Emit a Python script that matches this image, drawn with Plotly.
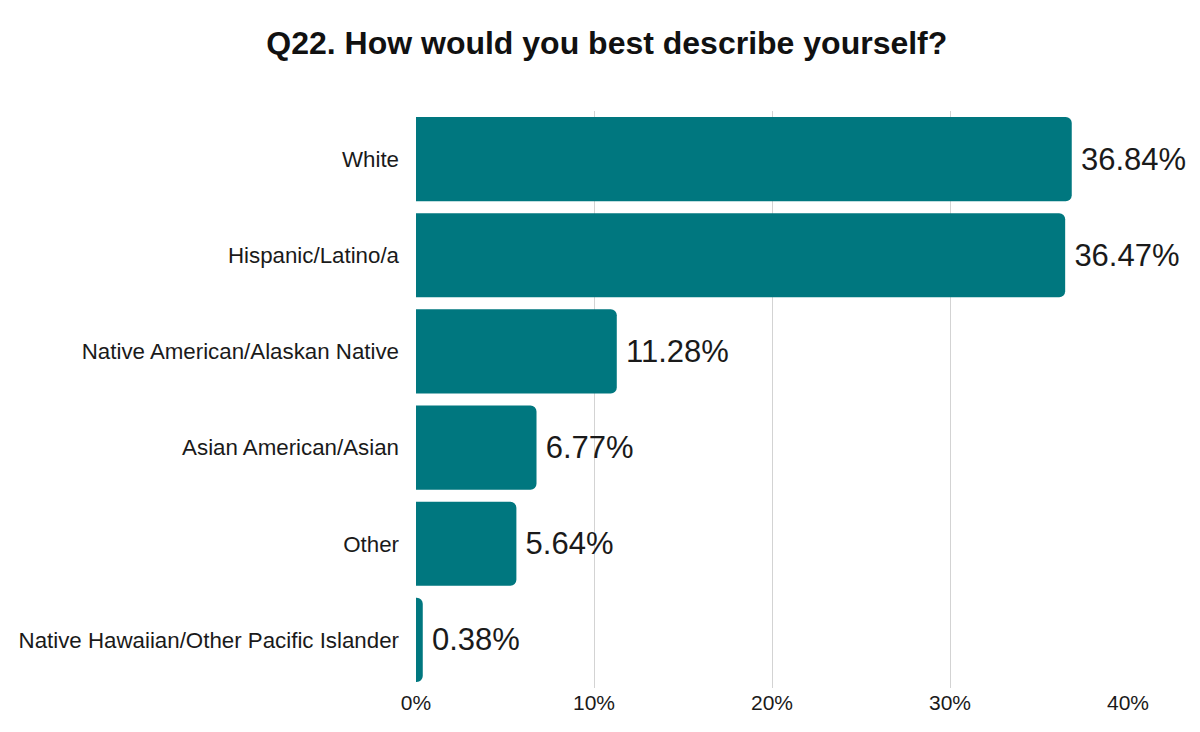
import plotly.graph_objects as go

# --- Survey data (percent of respondents) ---
categories = [
    "White",
    "Hispanic/Latino/a",
    "Native American/Alaskan Native",
    "Asian American/Asian",
    "Other",
    "Native Hawaiian/Other Pacific Islander",
]
percents = [36.84, 36.47, 11.28, 6.77, 5.64, 0.38]
tick_vals = [0, 10, 20, 30, 40]
tick_text = ["0%", "10%", "20%", "30%", "40%"]

# --- Horizontal bar chart ---
fig = go.Figure()
fig.add_trace(go.Bar(
    x=percents,
    y=categories,
    orientation='h',
    marker=dict(color='#00777F', cornerradius=6, line=dict(width=0)),
    # thin space in front pushes the label a bit further from the bar end
    text=[f"\u2009{p:.2f}%" for p in percents],
    textposition='outside',
    textfont=dict(family="Liberation Sans, Arial", size=31, color='#1a1a1a'),
    cliponaxis=False,
))

# --- Layout (page has an 8px body margin, so offsets are shifted) ---
fig.update_layout(
    width=1200,
    height=732,
    title=dict(
        text="<b>Q22. How would you best describe yourself?</b>",
        x=0.499, xanchor='center', y=0.953, yanchor='middle',
        font=dict(family="Liberation Sans, Arial", size=32, color='#111111'),
    ),
    font=dict(family="Liberation Sans, Arial", size=22, color='#1a1a1a'),
    plot_bgcolor='white',
    paper_bgcolor='white',
    margin=dict(l=408, r=80, t=103, b=52, autoexpand=False),
    bargap=0.125,
    showlegend=False,
    xaxis=dict(
        range=[0, 40],
        tickvals=tick_vals,
        ticktext=tick_text,
        showgrid=True,
        gridcolor='#d3d3d3',
        gridwidth=1,
        zeroline=False,
        showline=False,
        automargin=False,
        tickfont=dict(size=21),
    ),
    yaxis=dict(
        autorange='reversed',
        showgrid=False,
        zeroline=False,
        showline=False,
        automargin=False,
        ticklabelstandoff=16,
        tickfont=dict(size=22.3),
    ),
)

fig.write_html("out.html")
